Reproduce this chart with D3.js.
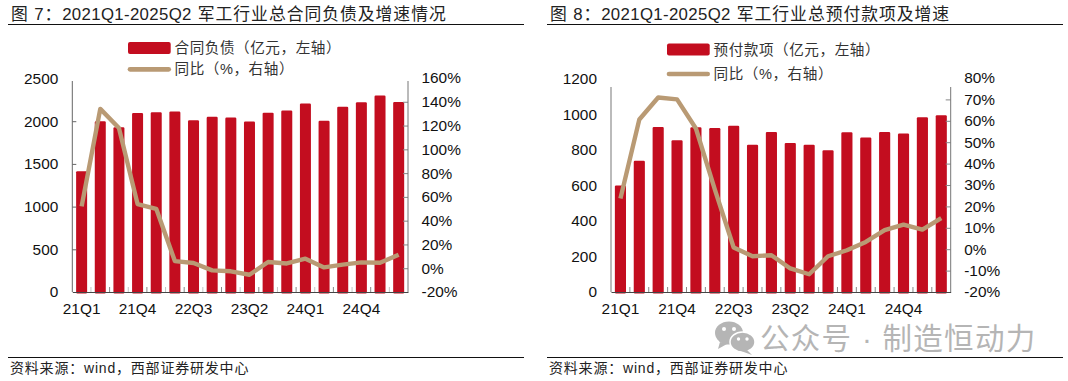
<!DOCTYPE html>
<html><head><meta charset="utf-8">
<script src="https://cdn.jsdelivr.net/npm/d3@7"></script>
<style>
html,body{margin:0;padding:0;background:#fff;overflow:hidden}
svg{display:block}
text{font-family:"Liberation Sans",Arial,sans-serif}
.cjk{font-family:"Liberation Sans","Noto Sans CJK SC",sans-serif}
</style></head><body>
<svg id="c" width="1068" height="381"></svg>
<script>
const quarters = ["21Q1","21Q2","21Q3","21Q4","22Q1","22Q2","22Q3","22Q4","23Q1","23Q2","23Q3","23Q4","24Q1","24Q2","24Q3","24Q4","25Q1","25Q2"];
const shownQuarters = ["21Q1","21Q4","22Q3","23Q2","24Q1","24Q4"];
const contractLiabilities = [1415,2000,1930,2097,2105,2113,2012,2051,2043,1997,2100,2125,2207,2005,2168,2222,2300,2226];
const contractYoY = [52,134,118,54,50,6,4.4,-1.8,-2.6,-5.5,5.2,4,8,0.7,3,4.9,4.6,11.3];
const prepayments = [598,738,928,853,926,922,934,827,900,838,827,797,898,868,900,891,982,993];
const prepaymentYoY = [23.7,60.6,70.9,70,56.4,28,0.8,-3.3,-2.8,-9,-11.7,-3.3,-0.5,3.4,8.9,11.5,9.2,14.5];
const leftTicksA = [0,500,1000,1500,2000,2500];
const rightTicksA = [-20,0,20,40,60,80,100,120,140,160];
const leftTicksB = [0,200,400,600,800,1000,1200];
const rightTicksB = [-20,-10,0,10,20,30,40,50,60,70,80];

const svg = d3.select("#c");
const RED="#c30d1f", TAN="#b99a74", INK="#111";

function chart(o){
  const g = svg.append("g");
  const x = d3.scaleBand().domain(quarters).range([o.x0,o.x1]).paddingInner(0.41).paddingOuter(0.205);
  const yL = d3.scaleLinear().domain(o.lDomain).range([292,78.5]);
  const yR = d3.scaleLinear().domain(o.rDomain).range([292,78]);
  // bars
  g.selectAll("rect.bar").data(o.bars).join("rect").attr("class","bar")
    .attr("x",(d,i)=>x(quarters[i])).attr("width",x.bandwidth())
    .attr("y",d=>yL(d)).attr("height",d=>293.5-yL(d)).attr("rx",1.2).attr("fill",RED);
  // axes
  const axL = g.append("g").attr("transform",`translate(${o.x0},0)`).call(d3.axisLeft(yL).tickValues(o.lTicks).tickSize(0).tickPadding(14).tickFormat(d3.format("d")));
  axL.select(".domain").remove();
  if(o.leftTicksInside) axL.selectAll("g.tick").filter(d=>d!==o.lDomain[1]&&d!==0).append("line").attr("x1",0).attr("x2",4).attr("stroke","#666");
  const axR = g.append("g").attr("transform",`translate(${o.x1},0)`).call(d3.axisRight(yR).tickValues(o.rTicks).tickSize(0).tickPadding(13.5).tickFormat(d=>d+"%"));
  axR.select(".domain").remove();
  axR.selectAll("g.tick").filter(d=>d!==o.rDomain[1]&&d!==o.rDomain[0]).append("line").attr("x1",-5).attr("x2",0).attr("stroke","#888");
  g.append("line").attr("x1",o.x0).attr("x2",o.x0).attr("y1",o.axisTop).attr("y2",292).attr("stroke",o.leftAxisColor).attr("stroke-width",o.leftAxisW);
  g.append("line").attr("x1",o.x1).attr("x2",o.x1).attr("y1",o.axisTop).attr("y2",292).attr("stroke","#777");
  const axB = g.append("g").attr("transform","translate(0,292)").call(d3.axisBottom(x).tickValues(shownQuarters).tickSize(0).tickPadding(11.5));
  axB.select(".domain").attr("stroke","#444");
  // between-bar ticks
  g.selectAll("line.bt").data(quarters.slice(1)).join("line").attr("class","bt")
    .attr("x1",d=>x(d)-x.step()*0.205).attr("x2",d=>x(d)-x.step()*0.205)
    .attr("y1",287).attr("y2",292).attr("stroke",(d,i)=>o.altTicks&&i%2===0?"#c4c4c4":"#888");
  g.selectAll(".tick text").attr("font-size",15.4).attr("fill",INK).attr("font-family","Liberation Sans");
  // line
  const line = d3.line().x((d,i)=>x(quarters[i])+x.bandwidth()/2).y(d=>yR(d));
  g.append("path").datum(o.yoy).attr("d",line).attr("fill","none").attr("stroke",TAN).attr("stroke-width",4.4).attr("stroke-linejoin","round");
  // legend
  g.append("rect").attr("x",o.legX).attr("y",o.legY1-6).attr("width",42.7).attr("height",12).attr("rx",2).attr("fill",RED);
  g.append("text").attr("class","cjk").attr("x",o.legX+46.5).attr("y",o.legY1+5).attr("font-size",14.6).attr("letter-spacing",0.55).attr("fill","#333").text(o.leg1);
  g.append("line").attr("x1",o.legX+2).attr("x2",o.legX+40.7).attr("y1",o.legY2).attr("y2",o.legY2).attr("stroke",TAN).attr("stroke-width",4.7).attr("stroke-linecap","round");
  g.append("text").attr("class","cjk").attr("x",o.legX+46.5).attr("y",o.legY2+5).attr("font-size",14.6).attr("letter-spacing",0.55).attr("fill","#333").text("同比（%，右轴）");
  // title + rules + source
  const t = g.append("text").attr("class","cjk").attr("x",o.titleX).attr("y",20).attr("font-size",16.8).attr("fill","#222");
  t.append("tspan").attr("letter-spacing",0.9).text(o.title[0]);
  t.append("tspan").attr("letter-spacing",0.35).text(o.title[1]);
  t.append("tspan").attr("letter-spacing",1).attr("dx",1).text(o.title[2]);
  g.append("line").attr("x1",o.ruleX0).attr("x2",o.ruleX1).attr("y1",24.5).attr("y2",24.5).attr("stroke","#111");
  g.append("line").attr("x1",o.ruleX0).attr("x2",o.ruleX1).attr("y1",357.5).attr("y2",357.5).attr("stroke","#111");
  g.append("text").attr("class","cjk").attr("x",o.titleX-1).attr("y",373).attr("font-size",14).attr("letter-spacing",0.8).attr("fill","#222").text("资料来源：wind，西部证券研发中心");
}

chart({x0:72.3,x1:408,bars:contractLiabilities,yoy:contractYoY,lDomain:[0,2500],rDomain:[-20,160],lTicks:leftTicksA,rTicks:rightTicksA,axisTop:81,leftAxisColor:"#666",leftAxisW:1,leftTicksInside:true,altTicks:true,
  legX:128,legY1:48,legY2:69.3,leg1:"合同负债（亿元，左轴）",title:["图 7：","2021Q1-2025Q2 ","军工行业总合同负债及增速情况"],titleX:11,ruleX0:8,ruleX1:524});
chart({x0:611,x1:950.7,bars:prepayments,yoy:prepaymentYoY,lDomain:[0,1200],rDomain:[-20,80],lTicks:leftTicksB,rTicks:rightTicksB,axisTop:87,leftAxisColor:"#bbb",leftAxisW:2,leftTicksInside:false,altTicks:false,
  legX:667,legY1:49.5,legY2:74,leg1:"预付款项（亿元，左轴）",title:["图 8：","2021Q1-2025Q2 ","军工行业总预付款项及增速"],titleX:550,ruleX0:547,ruleX1:1063});

// watermark
const wm = svg.append("g").attr("fill","#b5b5b5");
wm.append("ellipse").attr("cx",729).attr("cy",333).attr("rx",14).attr("ry",11.5);
wm.append("path").attr("d","M720 342 L718 349 L727 344Z");
wm.append("ellipse").attr("cx",742.5).attr("cy",342).attr("rx",12.5).attr("ry",10).attr("stroke","#fff").attr("stroke-width",1.5);
wm.append("path").attr("d","M747 350 L752 355 L741 351Z");
wm.append("g").attr("fill","#fff").selectAll("circle").data([[724,329,2],[734,329,2],[738.5,339,1.7],[747,339,1.7]]).join("circle")
  .attr("cx",d=>d[0]).attr("cy",d=>d[1]).attr("r",d=>d[2]);
wm.append("text").attr("class","cjk").attr("x",760).attr("y",349).attr("font-size",29.5).attr("letter-spacing",1.3).attr("fill","#b5b5b5").text("公众号 · 制造恒动力");
</script>
</body></html>
